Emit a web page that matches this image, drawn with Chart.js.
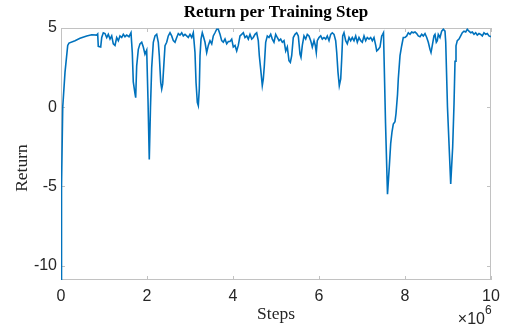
<!DOCTYPE html>
<html>
<head>
<meta charset="utf-8">
<script src="https://cdn.jsdelivr.net/npm/chart.js@4.4.1/dist/chart.umd.min.js"></script>
<style>
  html, body { margin: 0; padding: 0; background: #fff; }
  canvas { display: block; }
</style>
</head>
<body>
<canvas id="returnChart" width="508" height="327"></canvas>
<script>
// training steps, in units of 10^6
const steps = [
  0, 0.012, 0.040, 0.093, 0.156, 0.186, 0.326, 0.442, 0.598, 0.714,
  0.830, 0.853, 0.867, 0.923, 0.947, 0.984, 1.023, 1.063, 1.100, 1.140,
  1.179, 1.216, 1.256, 1.295, 1.333, 1.372, 1.412, 1.449, 1.488, 1.528,
  1.581, 1.628, 1.658, 1.681, 1.721, 1.737, 1.760, 1.798, 1.837, 1.877,
  1.914, 1.953, 1.993, 2.023, 2.053, 2.081, 2.109, 2.147, 2.186, 2.226,
  2.263, 2.286, 2.319, 2.342, 2.365, 2.395, 2.419, 2.458, 2.495, 2.535,
  2.574, 2.612, 2.651, 2.691, 2.728, 2.767, 2.807, 2.844, 2.884, 2.923,
  2.960, 3.000, 3.040, 3.077, 3.116, 3.140, 3.170, 3.193, 3.216, 3.233,
  3.256, 3.286, 3.309, 3.349, 3.388, 3.426, 3.465, 3.505, 3.542, 3.581,
  3.621, 3.658, 3.698, 3.737, 3.774, 3.814, 3.853, 3.891, 3.930, 3.970,
  4.007, 4.047, 4.086, 4.123, 4.163, 4.202, 4.240, 4.279, 4.319, 4.356,
  4.395, 4.435, 4.472, 4.512, 4.551, 4.588, 4.612, 4.644, 4.681, 4.705,
  4.728, 4.760, 4.798, 4.837, 4.877, 4.914, 4.953, 4.993, 5.030, 5.070,
  5.109, 5.147, 5.186, 5.226, 5.263, 5.302, 5.333, 5.365, 5.402, 5.442,
  5.481, 5.519, 5.558, 5.581, 5.612, 5.651, 5.691, 5.728, 5.767, 5.807,
  5.844, 5.884, 5.914, 5.937, 5.960, 6.000, 6.040, 6.077, 6.116, 6.156,
  6.193, 6.233, 6.272, 6.309, 6.349, 6.388, 6.412, 6.442, 6.472, 6.505,
  6.528, 6.551, 6.581, 6.621, 6.658, 6.698, 6.737, 6.774, 6.814, 6.853,
  6.891, 6.930, 6.970, 7.007, 7.047, 7.086, 7.123, 7.163, 7.202, 7.240,
  7.279, 7.319, 7.342, 7.379, 7.419, 7.458, 7.481, 7.500, 7.547, 7.593,
  7.635, 7.667, 7.698, 7.728, 7.767, 7.791, 7.826, 7.844, 7.884, 7.923,
  7.960, 8.000, 8.040, 8.077, 8.116, 8.156, 8.193, 8.233, 8.272, 8.309,
  8.349, 8.388, 8.426, 8.465, 8.505, 8.542, 8.581, 8.605, 8.635, 8.674,
  8.698, 8.728, 8.751, 8.774, 8.814, 8.853, 8.891, 8.930, 8.947, 8.988,
  9.063, 9.109, 9.140, 9.163, 9.186, 9.216, 9.256, 9.295, 9.333, 9.372,
  9.412, 9.449, 9.488, 9.528, 9.565, 9.605, 9.644, 9.681, 9.721, 9.760,
  9.798, 9.837, 9.877, 9.914, 9.953, 10.0
];

const returns = [
  -10.9, -5, 0, 2.2, 3.9, 4.05, 4.2, 4.35, 4.5, 4.57,
  4.55, 4.62, 3.84, 3.8, 4.4, 4.7, 4.65, 4.4, 4.6, 4.3,
  4.5, 4.0, 3.9, 4.4, 4.2, 4.5, 4.4, 4.6, 4.45, 4.55,
  4.45, 4.7, 3.45, 1.6, 0.85, 0.6, 2.6, 3.65, 4.0, 4.1,
  3.8, 3.35, 3.6, 0.5, -3.3, 0, 2.5, 4.1, 4.5, 4.6,
  4.1, 3.25, 1.57, 1.15, 1.47, 2.83, 3.88, 4.1, 4.5, 4.7,
  4.5, 4.2, 4.1, 4.4, 4.65, 4.55, 4.7, 4.5, 4.6, 4.5,
  4.4, 4.6, 4.4, 4.7, 3.45, 1.57, 0.3, 0.1, 1.15, 3.25,
  4.3, 4.7, 4.5, 4.1, 3.45, 3.9, 4.2, 4.0, 4.5, 4.7,
  4.92, 4.92, 4.6, 4.2, 4.1, 4.3, 4.0, 4.15, 4.15, 4.3,
  3.8, 3.9, 3.55, 3.9, 4.5, 4.6, 4.7, 4.4, 4.5, 4.3,
  4.6, 4.3, 4.4, 4.6, 4.7, 4.2, 3.25, 2.4, 1.36, 1.78,
  2.6, 4.1, 4.5, 4.4, 4.6, 4.3, 4.1, 4.6, 4.4, 4.2,
  4.3, 4.1, 4.2, 3.55, 3.8, 2.93, 2.83, 3.25, 4.4, 4.6,
  4.7, 4.5, 3.35, 3.15, 3.9, 4.5, 4.3, 4.6, 4.5, 4.2,
  3.8, 4.2, 3.9, 3.45, 4.2, 4.4, 4.5, 4.3, 4.4, 4.3,
  4.5, 4.2, 4.6, 4.7, 4.6, 4.2, 3.45, 2.2, 1.36, 1.78,
  3.04, 4.5, 4.7, 4.2, 4.0, 4.4, 4.2, 4.4, 4.2, 4.5,
  4.1, 4.4, 4.2, 4.1, 4.5, 4.2, 4.4, 4.3, 4.4, 4.2,
  4.4, 3.9, 3.55, 3.65, 3.8, 4.5, 4.6, 4.7, -1, -5.5,
  -3.75, -2.3, -1.55, -1.07, -0.92, -0.4, 0.8, 1.78, 3.25, 3.88,
  4.4, 4.4, 4.5, 4.7, 4.6, 4.75, 4.7, 4.75, 4.65, 4.5,
  4.45, 4.6, 4.5, 4.65, 4.4, 4.1, 3.65, 3.45, 3.9, 4.5,
  4.6, 4.1, 4.2, 4.6, 4.4, 4.8, 4.92, 4.8, 4.1, 0,
  -4.85, -2.5, 0.2, 2.9, 3.88, 4.2, 4.3, 4.5, 4.7, 4.8,
  4.75, 4.92, 4.8, 4.7, 4.75, 4.6, 4.7, 4.55, 4.65, 4.6,
  4.5, 4.7, 4.6, 4.65, 4.5, 4.45
];

const xTicks = [0, 2, 4, 6, 8, 10];
const yTicks = [-10, -5, 0, 5];

const boxColor = '#c2c2c2';
const textColor = '#262626';

// matlab style box with inward ticks, plus titles
const frame = {
  id: 'frame',
  beforeDatasetsDraw(chart) {
    const { ctx, chartArea: a, scales: { x, y } } = chart;
    ctx.save();
    ctx.strokeStyle = boxColor;
    ctx.lineWidth = 1;
    ctx.strokeRect(a.left + 0.5, a.top + 0.5, a.right - a.left - 1, a.bottom - a.top - 1);
    ctx.beginPath();
    xTicks.forEach(v => {
      const px = Math.round(x.getPixelForValue(v)) + 0.5;
      ctx.moveTo(px, a.bottom); ctx.lineTo(px, a.bottom - 4);
      ctx.moveTo(px, a.top); ctx.lineTo(px, a.top + 4);
    });
    yTicks.forEach(v => {
      const py = Math.round(y.getPixelForValue(v)) + 0.5;
      ctx.moveTo(a.left, py); ctx.lineTo(a.left + 4, py);
      ctx.moveTo(a.right, py); ctx.lineTo(a.right - 4, py);
    });
    ctx.stroke();
    ctx.restore();
  },
  afterDraw(chart) {
    const { ctx, chartArea: a } = chart;
    const cx = (a.left + a.right) / 2;
    ctx.save();
    ctx.fillStyle = '#000';
    ctx.textAlign = 'center';
    ctx.textBaseline = 'middle';
    ctx.font = 'bold 17px "Liberation Serif"';
    ctx.fillText('Return per Training Step', cx, 13);

    ctx.font = '17.5px "Liberation Serif"';
    ctx.fillStyle = textColor;
    ctx.fillText('Steps', cx, 314);
    ctx.save();
    ctx.translate(22, 168);
    ctx.rotate(-Math.PI / 2);
    ctx.fillText('Return', 0, 0);
    ctx.restore();

    // x10^6 exponent at the bottom right
    ctx.textAlign = 'left';
    ctx.textBaseline = 'alphabetic';
    ctx.font = '16px "Liberation Sans"';
    const base = '\u00d710';
    const w = ctx.measureText(base).width;
    const x0 = 492 - w - 7;
    ctx.fillText(base, x0, 324);
    ctx.font = '12px "Liberation Sans"';
    ctx.fillText('6', x0 + w, 314);
    ctx.restore();
  }
};

new Chart(document.getElementById('returnChart'), {
  type: 'scatter',
  data: {
    datasets: [{
      data: steps.map((s, i) => ({ x: s, y: returns[i] })),
      showLine: true,
      borderColor: '#0072BD',
      borderWidth: 1.6,
      pointRadius: 0,
      tension: 0
    }]
  },
  options: {
    responsive: false,
    animation: false,
    devicePixelRatio: 1,
    layout: { padding: { left: 0, right: 17, top: 28, bottom: 0 } },
    plugins: { legend: { display: false }, tooltip: { enabled: false } },
    scales: {
      x: {
        type: 'linear',
        min: 0,
        max: 10,
        afterBuildTicks: s => { s.ticks = xTicks.map(v => ({ value: v })); },
        afterFit: s => { s.height = 47; },
        grid: { display: false, drawTicks: false },
        border: { display: false },
        ticks: { padding: 7, color: textColor, font: { family: 'Liberation Sans', size: 16 } }
      },
      y: {
        min: -10.91,
        max: 5,
        afterBuildTicks: s => { s.ticks = yTicks.map(v => ({ value: v })); },
        afterFit: s => { s.width = 61; },
        grid: { display: false, drawTicks: false },
        border: { display: false },
        ticks: { padding: 4, color: textColor, font: { family: 'Liberation Sans', size: 16 } }
      }
    }
  },
  plugins: [frame]
});
</script>
</body>
</html>
